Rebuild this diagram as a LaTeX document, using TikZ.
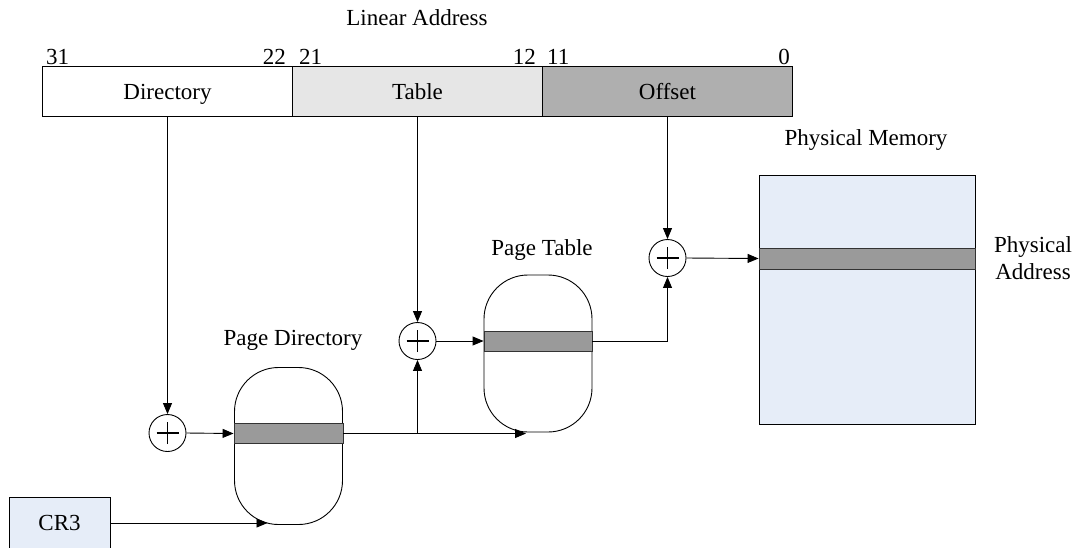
\documentclass[tikz,border=0pt]{standalone}
\usepackage{fontspec}
\setmainfont{Liberation Serif}
\usetikzlibrary{arrows.meta}
\definecolor{memblue}{HTML}{E6EDF8}
\definecolor{entrygray}{HTML}{9A9A9A}
\definecolor{offgray}{HTML}{AFAFAF}
\definecolor{tabgray}{HTML}{E6E6E6}
\begin{document}
\begin{tikzpicture}[
    x=1pt, y=-1pt,
    >={Triangle[length=11pt,width=9pt]},
    font=\fontsize{23}{27}\selectfont,
    field/.style={
        draw=black,
        line width=0.9pt,
        minimum width=250pt,
        minimum height=50pt,
        text height=15pt,
        text depth=0pt,
        inner sep=0pt
    },
    pagetab/.style={
        draw=black,
        line width=0.9pt,
        rounded corners=44pt,
        minimum width=108pt,
        minimum height=157pt,
        inner sep=0pt
    },
    entry/.style={
        draw=black!80,
        fill=entrygray,
        line width=0.9pt,
        minimum height=20pt,
        inner sep=0pt
    },
    adder/.style={
        circle,
        draw=black,
        line width=0.9pt,
        minimum size=37pt,
        inner sep=0pt,
        path picture={
            \draw[line width=1.2pt] (path picture bounding box.center) +(-11pt,0) -- +(11pt,0)
                (path picture bounding box.center) +(0,-11pt) -- +(0,11pt);
        }
    },
    bitnum/.style={inner sep=0pt},
    lbl/.style={inner sep=0pt, align=center},
    arr/.style={->, line width=0.9pt, draw=black}
]
    \useasboundingbox (0,0) rectangle (1075,547);

    \node[lbl] (linaddr) at (417,18) {Linear Address};

    \node[field, fill=white] (dirf) at (167.5,91.5) {Directory};
    \node[field, fill=tabgray] (tabf) at (417.5,91.5) {Table};
    \node[field, fill=offgray] (offf) at (667.5,91.5) {Offset};

    \node[bitnum, anchor=base west] (b31) at (46,64) {31};
    \node[bitnum, anchor=base east] (b22) at (286,64) {22};
    \node[bitnum, anchor=base west] (b21) at (299,64) {21};
    \node[bitnum, anchor=base east] (b12) at (536,64) {12};
    \node[bitnum, anchor=base west] (b11) at (547,64) {11};
    \node[bitnum, anchor=base east] (b0) at (790,64) {0};

    \node[adder] (plusa) at (167.5,433) {};
    \node[adder] (plusb) at (417.5,341) {};
    \node[adder] (plusc) at (667.5,258) {};

    \node[pagetab] (pdir) at (288.5,446) {};
    \node[entry, minimum width=109pt] (pdentry) at (288.5,433.5) {};
    \node[lbl] (pdirlbl) at (293,340) {Page Directory};

    \node[pagetab] (ptab) at (538,353.5) {};
    \node[entry, minimum width=108pt] (ptentry) at (538,341) {};
    \node[lbl] (ptablbl) at (542,250) {Page Table};

    \node[draw=black, fill=memblue, line width=0.9pt, minimum width=216pt,
        minimum height=249pt, inner sep=0pt] (pmem) at (867,299.5) {};
    \node[entry, minimum width=216pt, minimum height=21pt] (pmentry) at (867,258.5) {};
    \node[lbl] (pmemlbl) at (866,140) {Physical Memory};
    \node[lbl] (physaddr) at (1033,258) {Physical\\Address};

    \node[draw=black, fill=memblue, line width=0.9pt, minimum width=101pt,
        minimum height=52pt, inner sep=0pt] (cr3) at (59.5,523) {CR3};

    \coordinate (ptin) at ([xshift=-12pt]ptab.south);
    \coordinate (pdin) at ([xshift=-21pt]pdir.south);

    \draw[arr] (dirf.south) -- (plusa.north);
    \draw[arr] (tabf.south) -- (plusb.north);
    \draw[arr] (offf.south) -- (plusc.north);
    \draw[arr] (plusa.east) -- (pdentry.west);
    \draw[arr] (pdentry.east) -- (pdentry.east -| ptin);
    \draw[arr] (pdentry.east -| plusb) -- (plusb.south);
    \draw[arr] (plusb.east) -- (ptentry.west);
    \draw[arr] (ptentry.east) -| (plusc.south);
    \draw[arr] (plusc.east) -- (pmentry.west);
    \draw[arr] (cr3.east) -- (cr3.east -| pdin);
\end{tikzpicture}
\end{document}
